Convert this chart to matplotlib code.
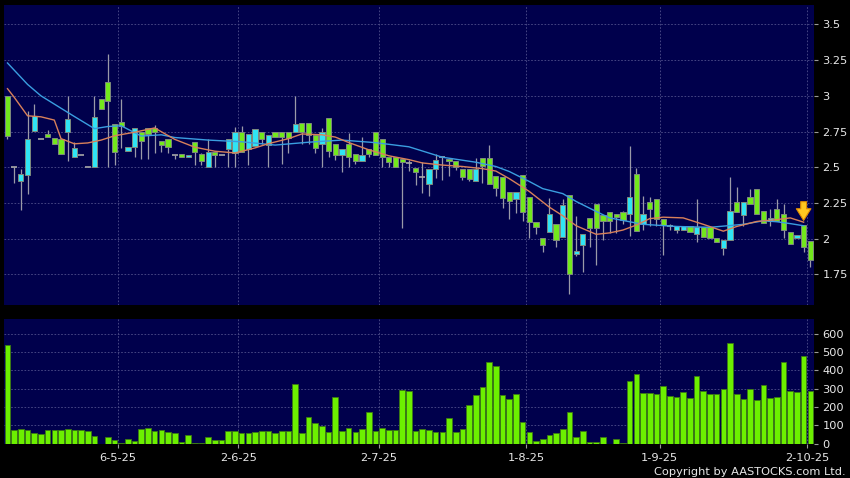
import numpy as np
import matplotlib
matplotlib.use("Agg")
import matplotlib.pyplot as plt

# daily OHLC (one entry per bar, oldest first)
opens = [3.00, 2.50, 2.40, 2.445, 2.755, 2.70, 2.73, 2.705, 2.70, 2.746,
         2.573, 2.585, 2.50, 2.50, 2.98, 3.096, 2.80, 2.816, 2.613, 2.641,
         2.75, 2.778, 2.774, 2.683, 2.697, 2.587, 2.592, 2.571, 2.674, 2.592,
         2.50, 2.61, 2.587, 2.627, 2.60, 2.75, 2.627, 2.65, 2.75, 2.657,
         2.746, 2.746, 2.75, 2.746, 2.813, 2.813, 2.727, 2.664, 2.844, 2.662,
         2.583, 2.662, 2.592, 2.545, 2.629, 2.746, 2.697, 2.569, 2.571, 2.557,
         2.53, 2.494, 2.43, 2.385, 2.49, 2.569, 2.557, 2.541, 2.487, 2.487,
         2.40, 2.564, 2.564, 2.44, 2.429, 2.324, 2.278, 2.448, 2.292, 2.117,
         2.005, 2.044, 2.103, 2.012, 2.303, 1.893, 1.958, 2.145, 2.243, 2.168,
         2.187, 2.173, 2.184, 2.175, 2.455, 2.103, 2.254, 2.278, 2.138, 2.091,
         2.063, 2.063, 2.091, 2.033, 2.082, 2.082, 2.005, 1.935, 1.993, 2.254,
         2.168, 2.289, 2.347, 2.196, 2.121, 2.208, 2.173, 2.044, 2.005, 2.098,
         1.981]
highs = [3.00, 2.50, 2.49, 2.895, 2.94, 2.70, 2.76, 2.705, 2.70, 3.00,
         2.68, 2.585, 2.50, 3.00, 2.98, 3.29, 2.80, 2.98, 2.641, 2.774,
         2.75, 2.778, 2.795, 2.683, 2.697, 2.587, 2.592, 2.585, 2.674, 2.60,
         2.697, 2.61, 2.587, 2.697, 2.785, 2.79, 2.734, 2.767, 2.75, 2.727,
         2.746, 2.746, 2.75, 3.00, 2.813, 2.813, 2.727, 2.774, 2.844, 2.662,
         2.629, 2.74, 2.592, 2.71, 2.629, 2.746, 2.697, 2.569, 2.571, 2.557,
         2.55, 2.494, 2.534, 2.487, 2.594, 2.569, 2.557, 2.541, 2.487, 2.487,
         2.564, 2.564, 2.657, 2.44, 2.429, 2.324, 2.324, 2.448, 2.292, 2.117,
         2.005, 2.285, 2.103, 2.278, 2.303, 2.156, 2.033, 2.145, 2.243, 2.168,
         2.187, 2.173, 2.19, 2.646, 2.494, 2.296, 2.29, 2.278, 2.138, 2.10,
         2.09, 2.091, 2.091, 2.278, 2.082, 2.082, 2.005, 1.988, 2.431, 2.36,
         2.254, 2.347, 2.347, 2.196, 2.208, 2.278, 2.24, 2.044, 2.028, 2.098,
         1.981]
lows = [2.70, 2.39, 2.20, 2.31, 2.755, 2.70, 2.71, 2.66, 2.59, 2.54,
        2.573, 2.585, 2.50, 2.50, 2.91, 2.50, 2.517, 2.636, 2.613, 2.571,
        2.56, 2.56, 2.60, 2.61, 2.60, 2.56, 2.571, 2.571, 2.513, 2.513,
        2.50, 2.50, 2.587, 2.50, 2.50, 2.61, 2.517, 2.65, 2.66, 2.50,
        2.711, 2.522, 2.60, 2.746, 2.662, 2.662, 2.60, 2.50, 2.571, 2.55,
        2.464, 2.50, 2.52, 2.545, 2.57, 2.583, 2.50, 2.50, 2.50, 2.075,
        2.47, 2.378, 2.32, 2.30, 2.424, 2.41, 2.44, 2.48, 2.41, 2.40,
        2.40, 2.39, 2.385, 2.30, 2.215, 2.14, 2.18, 2.12, 2.005, 2.033,
        1.904, 2.044, 1.94, 2.012, 1.615, 1.88, 1.765, 1.94, 1.818, 1.99,
        2.04, 2.04, 2.10, 2.02, 2.056, 2.06, 2.09, 2.086, 1.883, 2.06,
        2.04, 2.063, 2.047, 1.977, 2.012, 2.005, 1.977, 1.883, 1.993, 2.187,
        2.086, 2.243, 2.173, 2.11, 2.09, 2.126, 2.005, 1.963, 2.005, 1.904,
        1.80]
closes = [2.72, 2.50, 2.45, 2.70, 2.86, 2.70, 2.71, 2.66, 2.59, 2.837,
          2.634, 2.585, 2.50, 2.85, 2.91, 2.963, 2.605, 2.792, 2.641, 2.774,
          2.685, 2.734, 2.75, 2.655, 2.641, 2.587, 2.571, 2.585, 2.606, 2.543,
          2.606, 2.585, 2.587, 2.697, 2.75, 2.61, 2.734, 2.767, 2.697, 2.727,
          2.711, 2.711, 2.708, 2.80, 2.75, 2.727, 2.634, 2.75, 2.615, 2.583,
          2.629, 2.571, 2.545, 2.583, 2.594, 2.583, 2.569, 2.536, 2.50, 2.536,
          2.53, 2.466, 2.43, 2.487, 2.552, 2.569, 2.543, 2.499, 2.431, 2.417,
          2.487, 2.506, 2.385, 2.355, 2.285, 2.261, 2.324, 2.187, 2.117, 2.082,
          1.953, 2.173, 1.993, 2.238, 1.755, 1.916, 2.033, 2.075, 2.075, 2.126,
          2.121, 2.152, 2.133, 2.292, 2.056, 2.173, 2.208, 2.14, 2.093, 2.091,
          2.09, 2.091, 2.047, 2.082, 2.012, 2.005, 1.977, 1.988, 2.196, 2.187,
          2.254, 2.243, 2.173, 2.11, 2.145, 2.126, 2.063, 1.963, 2.028, 1.942,
          1.853]
volume = [538, 73, 79, 73, 57, 51, 73, 73, 73, 77,
          73, 73, 68, 40, 0, 35, 18, 2, 22, 13,
          79, 84, 68, 73, 62, 59, 9, 48, 4, 4,
          37, 18, 18, 68, 68, 59, 57, 61, 68, 68,
          59, 66, 68, 325, 57, 145, 114, 95, 62, 257,
          70, 83, 62, 79, 171, 70, 83, 73, 72, 294,
          290, 68, 77, 73, 62, 62, 141, 61, 77, 209,
          266, 308, 446, 422, 266, 242, 272, 119, 64, 13,
          22, 48, 57, 81, 171, 35, 68, 6, 9, 37,
          0, 22, 4, 345, 382, 279, 279, 272, 316, 261,
          253, 283, 251, 372, 288, 270, 270, 297, 550, 272,
          242, 301, 237, 321, 251, 253, 444, 290, 283, 477,
          290]

# moving averages (bar index, value)
ma10_idx = [0, 1, 3, 5, 7, 8, 10, 12, 14, 16, 19, 22, 25, 28, 31, 34, 37, 39,
            42, 44, 47, 49, 51, 54, 57, 60, 62, 65, 68, 71, 73, 75, 78, 81,
            83, 85, 88, 90, 92, 94, 96, 98, 101, 104, 107, 109, 112, 115,
            117, 119]
ma10_val = [3.05, 2.99, 2.86, 2.853, 2.83, 2.70, 2.664, 2.67, 2.69, 2.72,
            2.745, 2.775, 2.695, 2.64, 2.612, 2.60, 2.635, 2.665, 2.70, 2.733,
            2.727, 2.711, 2.673, 2.622, 2.58, 2.553, 2.53, 2.515, 2.505, 2.49,
            2.473, 2.42, 2.33, 2.22, 2.16, 2.09, 2.03, 2.04, 2.06, 2.095,
            2.14, 2.15, 2.145, 2.10, 2.052, 2.085, 2.12, 2.133, 2.145, 2.115]
ma20_idx = [0, 3, 5, 10, 13, 15, 17, 20, 23, 25, 30, 35, 40, 45, 50, 55, 60,
            65, 70, 73, 75, 78, 80, 83, 85, 88, 90, 95, 100, 105, 110, 113,
            115, 117, 119]
ma20_val = [3.23, 3.08, 3.00, 2.855, 2.77, 2.785, 2.79, 2.718, 2.727, 2.708,
            2.69, 2.678, 2.655, 2.675, 2.69, 2.672, 2.643, 2.57, 2.535, 2.505,
            2.47, 2.40, 2.35, 2.315, 2.26, 2.19, 2.145, 2.10, 2.085, 2.079,
            2.10, 2.125, 2.118, 2.105, 2.09]

date_pos = [17, 35, 56, 78, 98, 120]
date_labels = ['6-5-25', '2-6-25', '2-7-25', '1-8-25', '1-9-25', '2-10-25']
price_ticks = [1.75, 2, 2.25, 2.5, 2.75, 3, 3.25, 3.5]
price_labels = ['1.75', '2', '2.25', '2.5', '2.75', '3', '3.25', '3.5']
vol_ticks = [0, 100, 200, 300, 400, 500, 600]

BG = '#00004c'
GRID = '#50508c'
UP = '#30e4f4'
DOWN = '#72e81c'
TXT = '#e8e8e8'

plt.rcParams['font.family'] = ['DejaVu Sans']

fig = plt.figure(figsize=(8.5, 4.78), dpi=100, facecolor='black')
ax = fig.add_axes([4 / 850, 1 - 305 / 478, 810 / 850, 300 / 478])
axv = fig.add_axes([4 / 850, 1 - 443.5 / 478, 810 / 850, 124.5 / 478])

x = np.arange(len(opens))
o = np.array(opens)
h = np.array(highs)
l = np.array(lows)
c = np.array(closes)

for a in (ax, axv):
    a.set_facecolor(BG)
    for s in a.spines.values():
        s.set_visible(False)
    a.set_xlim(-0.52, 120.55)
    a.set_xticks([p - 0.5 for p in date_pos])
    a.grid(True, color=GRID, linestyle=(0, (2, 2)), linewidth=0.6)
    a.set_axisbelow(True)
    a.yaxis.tick_right()
    a.tick_params(axis='y', colors='#9a9a9a', labelcolor=TXT, labelsize=8.2,
                  length=3, width=0.8, pad=3)
    a.tick_params(axis='x', colors='#9a9a9a', labelcolor=TXT, labelsize=8.2,
                  length=3, width=0.8, pad=4)

# candles
ax.vlines(x, l, h, color='#9a9aa8', linewidth=0.9, zorder=2)
body = np.abs(c - o)
doji = body < 0.004
colors = np.where(c > o, UP, DOWN)
ax.bar(x[~doji], body[~doji], bottom=np.minimum(o, c)[~doji], width=0.78,
       color=colors[~doji], edgecolor='#7e8a7e', linewidth=0.7, zorder=3)
ax.hlines(c[doji], x[doji] - 0.45, x[doji] + 0.45, color='#a8a8a8',
          linewidth=1.2, zorder=3)

ax.plot(ma20_idx, ma20_val, color='#3a9ee0', linewidth=1.0, zorder=4)
ax.plot(ma10_idx, ma10_val, color='#d8805a', linewidth=1.0, zorder=4)

# marker arrow above the second-to-last bar
mark = 119
ax.annotate('', xy=(mark, highs[mark] + 0.01), xytext=(mark, highs[mark] + 0.18),
            arrowprops=dict(arrowstyle='simple,head_length=0.6,head_width=0.75,tail_width=0.3',
                            mutation_scale=14, fc='#ffc820', ec='#e08a00', lw=0.8),
            zorder=6)

ax.set_ylim(1.535, 3.636)
ax.set_yticks(price_ticks)
ax.set_yticklabels(price_labels)
ax.tick_params(axis='x', length=0, labelbottom=False)

# volume
axv.bar(x, volume, width=0.84, color='#6cf000', edgecolor='#3c7a14',
        linewidth=0.6, zorder=3)
axv.set_ylim(0, 682)
axv.set_yticks(vol_ticks)
axv.set_xticklabels(date_labels)

fig.text(846 / 850, 1 - 472 / 478, 'Copyright by AASTOCKS.com Ltd.',
         ha='right', va='center', color=TXT, fontsize=8.2)

fig.savefig('out.png', dpi=100, facecolor='black')
